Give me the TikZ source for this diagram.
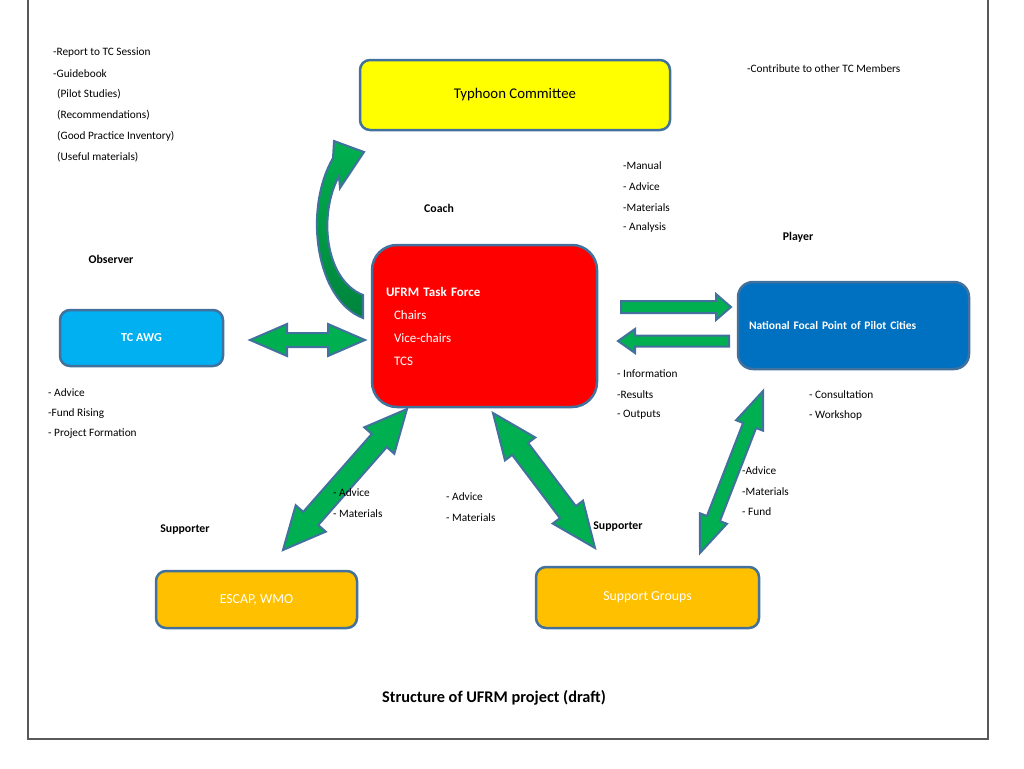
\documentclass[tikz,border=0pt]{standalone}
\usepackage{fontspec}
\setmainfont{Carlito}
\usetikzlibrary{calc}
\definecolor{boxline}{HTML}{41719C}
\definecolor{tcyellow}{HTML}{FFFF00}
\definecolor{ufrmred}{HTML}{FF0000}
\definecolor{awgcyan}{HTML}{00B0F0}
\definecolor{nfpblue}{HTML}{0070C0}
\definecolor{supporange}{HTML}{FFC000}
\definecolor{arrowgreen}{HTML}{00B050}
\definecolor{arrowdark}{HTML}{00833C}
\definecolor{framegray}{HTML}{595959}
\tikzset{
  box/.style={draw=boxline, line width=2.5pt, rounded corners=10pt, text=white, inner sep=0pt},
  blockarrow/.style={draw=boxline, line width=2pt, fill=arrowgreen, line join=miter},
  note/.style={font=\fontsize{11.3}{13}\selectfont, anchor=west, inner sep=0pt},
  tag/.style={font=\fontsize{11.8}{13}\selectfont\bfseries, inner sep=0pt}
}
\newcommand\dblarrow[5]{%
  \coordinate (da1) at ($(#1)!#5pt!(#2)$);
  \coordinate (da2) at ($(#2)!#5pt!(#1)$);
  \draw[blockarrow] (#1) -- ($(da1)!#4pt!90:(#2)$) -- ($(da1)!#3pt!90:(#2)$) -- ($(da2)!#3pt!90:(#2)$) -- ($(da2)!#4pt!90:(#2)$) -- (#2)
    -- ($(da2)!#4pt!-90:(#2)$) -- ($(da2)!#3pt!-90:(#2)$) -- ($(da1)!#3pt!-90:(#2)$) -- ($(da1)!#4pt!-90:(#2)$) -- cycle;}
\newcommand\onearrow[5]{%
  \coordinate (da2) at ($(#2)!#5pt!(#1)$);
  \draw[blockarrow] ($(#1)!#3pt!90:(#2)$) -- ($(da2)!#3pt!90:(#2)$) -- ($(da2)!#4pt!90:(#2)$) -- (#2)
    -- ($(da2)!#4pt!-90:(#2)$) -- ($(da2)!#3pt!-90:(#2)$) -- ($(#1)!#3pt!-90:(#2)$) -- cycle;}
\begin{document}
\begin{tikzpicture}[x=1pt,y=-1pt]
  \useasboundingbox (0,0) rectangle (1024,768);
  \draw[framegray, line width=1.5pt] (28,-3) rectangle (988,739);
  \node[box, fill=tcyellow, text=black, minimum width=310pt, minimum height=70pt, font=\fontsize{14.8}{16}\selectfont] (tc) at (515,95) {Typhoon Committee};
  \node[box, fill=ufrmred, rounded corners=25pt, minimum width=225pt, minimum height=162pt, text width=197pt, inner xsep=14pt, align=left, font=\fontsize{13}{23}\selectfont] (ufrm) at (484.5,326)
    {\textbf{UFRM Task Force}\\\hspace*{8pt}Chairs\\\hspace*{8pt}Vice-chairs\\\hspace*{8pt}TCS};
  \node[box, fill=awgcyan, minimum width=163pt, minimum height=56pt, font=\fontsize{12.2}{14}\selectfont\bfseries] (awg) at (141.5,338) {TC AWG};
  \node[box, fill=nfpblue, rounded corners=15pt, minimum width=231pt, minimum height=87pt, text width=209pt, inner xsep=11pt, align=left, font=\fontsize{11.5}{13}\selectfont\bfseries] (nfp) at (853.5,325.5) {National Focal Point of Pilot Cities};
  \node[box, fill=supporange, minimum width=201pt, minimum height=57pt, font=\fontsize{13.8}{15}\selectfont] (escap) at (256.5,599.5) {ESCAP, WMO};
  \node[box, fill=supporange, minimum width=223pt, minimum height=61pt, font=\fontsize{13.8}{15}\selectfont] (sg) at (647.5,597.5) {Support Groups};
  \coordinate (awgtip) at (250,340);
  \coordinate (ufrmw) at (365,340);
  \coordinate (ufrme) at (621,307);
  \coordinate (nfpw) at (731,307);
  \coordinate (nfpin) at (729,341);
  \coordinate (ufrmin) at (618,341);
  \coordinate (ufrmsw) at (407,409);
  \coordinate (escaptip) at (283,550);
  \coordinate (ufrmse) at (493,413);
  \coordinate (sgtipl) at (595,548);
  \coordinate (nfps) at (763,391);
  \coordinate (sgtipr) at (700,553);
  \dblarrow{awgtip}{ufrmw}{7}{16}{37}
  \onearrow{ufrme}{nfpw}{6}{13}{15}
  \onearrow{nfpin}{ufrmin}{5.5}{12}{17}
  \dblarrow{ufrmsw}{escaptip}{10}{20}{42}
  \dblarrow{ufrmse}{sgtipl}{10}{19}{45}
  \dblarrow{nfps}{sgtipr}{7}{14.5}{37}
  \draw[blockarrow, top color=arrowgreen, bottom color=arrowdark] (363,318) .. controls (316,300) and (303,210) .. (333,158) -- (334,141) -- (364,152) -- (340,188) -- (339,176)
    .. controls (318,215) and (325,280) .. (363,295) -- cycle;
  \foreach \txt [count=\i from 0] in {-Report to TC Session,-Guidebook}
    \node[note] (rep\i) at (53,53+20.5*\i) {\txt};
  \foreach \txt [count=\i from 0] in {(Pilot Studies),(Recommendations),(Good Practice Inventory),(Useful materials)}
    \node[note] (guide\i) at (57,94.5+20.8*\i) {\txt};
  \node[note] (contrib) at (747,69) {-Contribute to other TC Members};
  \foreach \txt [count=\i from 0] in {-Manual,- Advice,-Materials,- Analysis}
    \node[note] (coach\i) at (623,166+20.6*\i) {\txt};
  \foreach \txt [count=\i from 0] in {- Information,-Results,- Outputs}
    \node[note] (info\i) at (617,374+20.5*\i) {\txt};
  \foreach \txt [count=\i from 0] in {- Consultation,- Workshop}
    \node[note] (cons\i) at (809,395+20.5*\i) {\txt};
  \foreach \txt [count=\i from 0] in {- Advice,-Fund Rising,- Project Formation}
    \node[note] (obs\i) at (48,393+20.5*\i) {\txt};
  \foreach \txt [count=\i from 0] in {- Advice,- Materials}
    \node[note] (esc\i) at (333,493+20.8*\i) {\txt};
  \foreach \txt [count=\i from 0] in {- Advice,- Materials}
    \node[note] (mid\i) at (446,497+20.8*\i) {\txt};
  \foreach \txt [count=\i from 0] in {-Advice,-Materials,- Fund}
    \node[note] (fund\i) at (742,471+20.5*\i) {\txt};
  \node[tag] (coach) at (439,208) {Coach};
  \node[tag] (player) at (798,237) {Player};
  \node[tag] (observer) at (111,259) {Observer};
  \node[tag] (supl) at (185,530) {Supporter};
  \node[tag] (supr) at (618,527) {Supporter};
  \node[font=\fontsize{16.3}{18}\selectfont\bfseries] (title) at (494,698) {Structure of UFRM project (draft)};
\end{tikzpicture}
\end{document}
